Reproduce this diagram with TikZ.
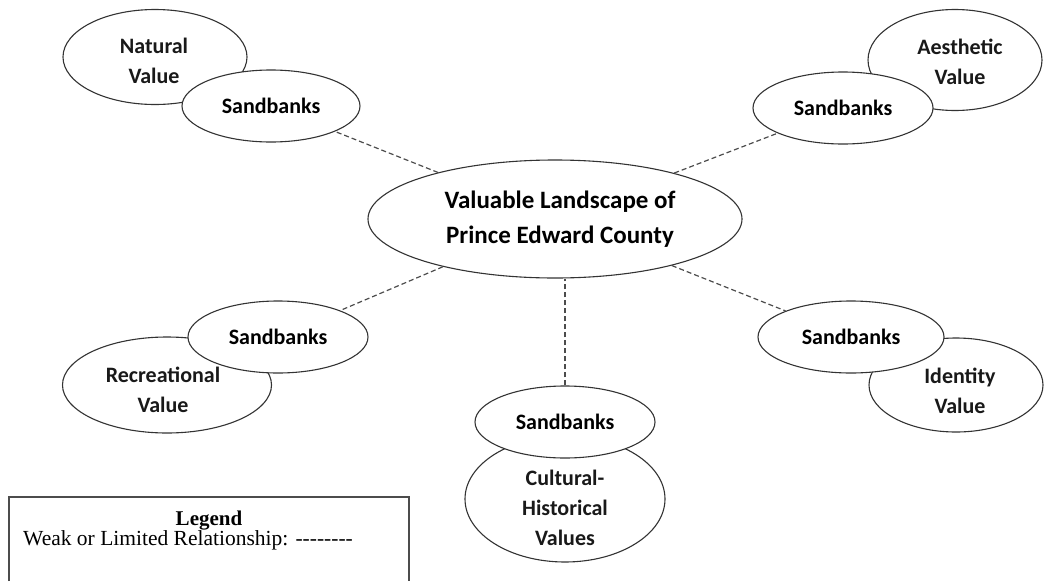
\documentclass[tikz,border=0pt]{standalone}
\usepackage{fontspec}
\setmainfont{Carlito}
\newfontfamily\legendfont{Liberation Serif}
\usetikzlibrary{shapes.geometric}
\tikzset{
  oval/.style={ellipse, draw=black!80, line width=1.1pt, fill=white, inner sep=0pt},
  sandbox/.style={oval, minimum width=180pt, minimum height=72pt, font=\fontsize{22}{30}\selectfont\bfseries},
  valtext/.style={align=center, inner sep=0pt, font=\fontsize{22}{30}\selectfont\bfseries, text=black!90},
  weak/.style={dashed, dash pattern=on 5pt off 3pt, line width=1.2pt, draw=black!70},
  legendline/.style={line width=1.4pt, draw=black!70}
}
\begin{document}
\begin{tikzpicture}[x=1pt,y=-1pt]
\useasboundingbox (0,0) rectangle (1044,581);
% value ellipses
\node[oval, minimum width=184pt, minimum height=95pt] (nat) at (155,57) {};
\node[valtext] (natt) at (154,61) {Natural\\Value};
\node[oval, minimum width=174pt, minimum height=101pt] (aes) at (955,60) {};
\node[valtext] (aest) at (960,62) {Aesthetic\\Value};
\node[oval, minimum width=209pt, minimum height=96pt] (rec) at (167,385) {};
\node[valtext] (rect) at (163,390) {Recreational\\Value};
\node[oval, minimum width=174pt, minimum height=94pt] (ide) at (956,385) {};
\node[valtext] (idet) at (960,391) {Identity\\Value};
\node[oval, minimum width=200pt, minimum height=126pt] (cul) at (565,499) {};
\node[valtext] (cult) at (565,508) {Cultural-\\Historical\\Values};
% sandbanks
\node[sandbox, minimum width=178pt] (sb1) at (271,106) {Sandbanks};
\node[sandbox] (sb2) at (843,108) {Sandbanks};
\node[sandbox] (sb3) at (278,337) {Sandbanks};
\node[sandbox, minimum width=186pt] (sb4) at (851,337) {Sandbanks};
\node[sandbox] (sb5) at (565,422) {Sandbanks};
% central
\node[oval, minimum width=374pt, minimum height=118pt, align=center,
      font=\fontsize{25}{35}\selectfont\bfseries] (c) at (555,219)
      {\hspace*{10pt}Valuable Landscape of\\\hspace*{10pt}Prince Edward County};
% connectors
\draw[weak] (c) -- (sb1);
\draw[weak] (c) -- (sb2);
\draw[weak] (c) -- (sb3);
\draw[weak] (c) -- (sb4);
\draw[weak] (sb5.north) -- (sb5.north |- c.south);
% legend
\coordinate (lgbl) at (9,581);
\coordinate (lgtl) at (9,497);
\coordinate (lgtr) at (409,497);
\coordinate (lgbr) at (409,581);
\draw[legendline] (lgbl) -- (lgtl) -- (lgtr) -- (lgbr);
\node[anchor=base, inner sep=0pt, font=\legendfont\fontsize{21}{24}\selectfont\bfseries] (lgt) at (209,525) {Legend};
\node[anchor=base west, inner sep=0pt, font=\legendfont\fontsize{21.5}{24}\selectfont] (lgx) at (23,545) {Weak or Limited Relationship: -{}-{}-{}-{}-{}-{}-{}-};
\end{tikzpicture}
\end{document}
